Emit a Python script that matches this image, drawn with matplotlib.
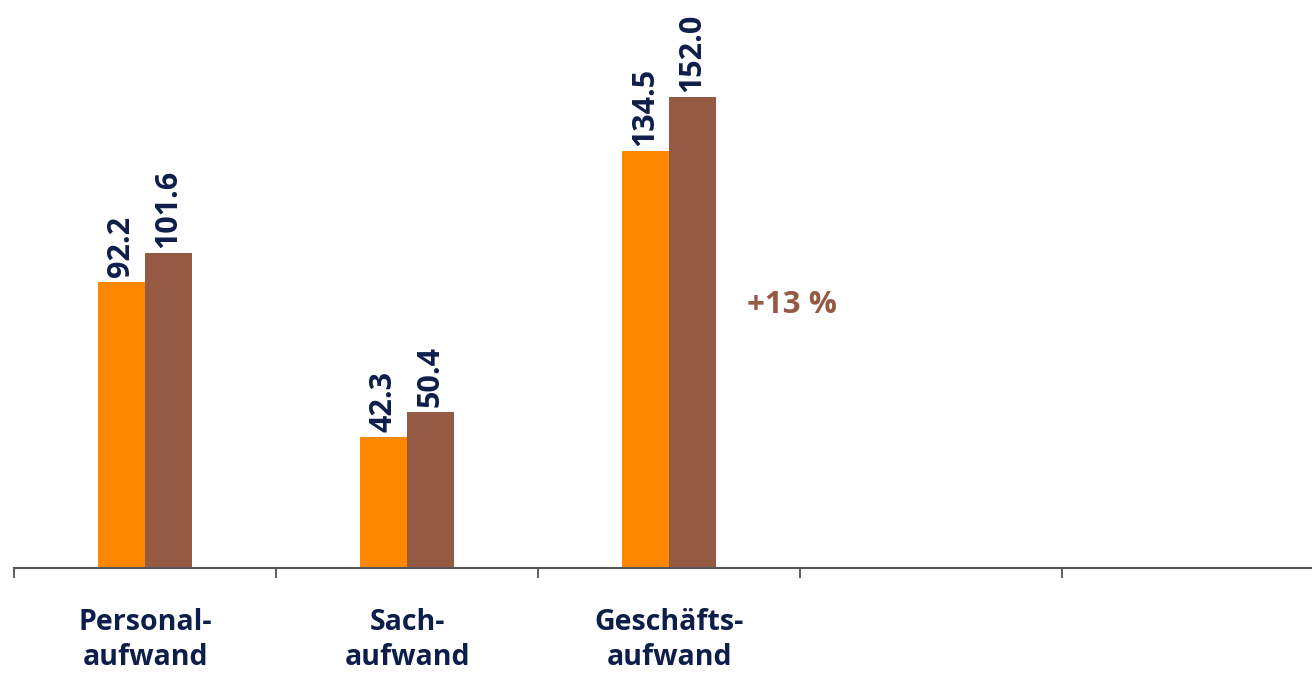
import matplotlib.pyplot as plt
import numpy as np

# Data
categories = ['Personal-\naufwand', 'Sach-\naufwand', 'Geschäfts-\naufwand', '', '']
prev_year = [92.2, 42.3, 134.5]
curr_year = [101.6, 50.4, 152.0]
change_label = '+13 %'

ORANGE = '#FF8800'
BROWN = '#955A43'
NAVY = '#0E1E4A'

plt.rcParams['font.family'] = ['Open Sans', 'DejaVu Sans']

fig = plt.figure(figsize=(13.12, 6.76), dpi=100)
# axes extends past the right edge, like the original
ax = fig.add_axes([14 / 1312, 108 / 676, 1310 / 1312, 568 / 676])

w = 0.181
x = np.arange(len(prev_year))
ax.bar(x - w / 2, prev_year, width=w, color=ORANGE)
ax.bar(x + w / 2, curr_year, width=w, color=BROWN)

for xi, v in zip(x - w / 2, prev_year):
    ax.text(xi, v + 1.6, f'{v:.1f}', rotation=90, ha='center', va='bottom',
            fontsize=22, fontweight='bold', color=NAVY)
for xi, v in zip(x + w / 2, curr_year):
    ax.text(xi, v + 1.6, f'{v:.1f}', rotation=90, ha='center', va='bottom',
            fontsize=22, fontweight='bold', color=NAVY)

ax.text(2.298, 84.9, change_label, ha='left', va='center',
        fontsize=22.5, fontweight='bold', color=BROWN)

ax.set_xlim(-0.5, 4.5)
ax.set_ylim(0, 183.3)

# category labels without tick marks, boundary ticks as minor ticks
ax.set_xticks(np.arange(len(categories)))
ax.set_xticklabels(categories, fontsize=20.5, fontweight='bold', color=NAVY,
                   linespacing=1.25)
ax.tick_params(axis='x', which='major', length=0, pad=29)
ax.set_xticks(np.arange(-0.5, 4.5, 1.0), minor=True)
ax.tick_params(axis='x', which='minor', length=7.5, width=1.2, color='#444444')

ax.set_yticks([])
for s in ['top', 'right', 'left']:
    ax.spines[s].set_visible(False)
ax.spines['bottom'].set_color('#555555')
ax.spines['bottom'].set_linewidth(1.5)

fig.savefig('out.png', dpi=100)
